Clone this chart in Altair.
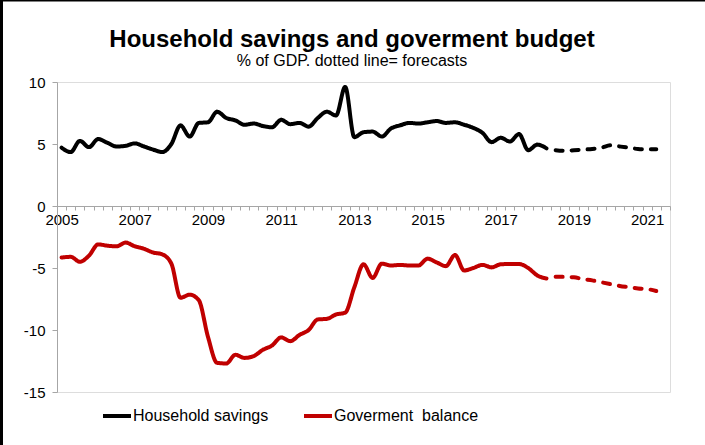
import altair as alt
import pandas as pd

# ---- data (quarterly, first point = 2005 Q1) ----
start_year = 2005
household_actual = [4.7, 4.35, 5.25, 4.75, 5.4, 5.1, 4.8, 4.85, 5.05, 4.8, 4.55, 4.35,
                    5.0, 6.5, 5.6, 6.7, 6.75, 7.6, 7.1, 6.9, 6.55, 6.65, 6.45, 6.35,
                    6.95, 6.6, 6.7, 6.4, 7.1, 7.6, 7.3, 9.6, 5.55, 5.95, 6.0, 5.6,
                    6.25, 6.5, 6.7, 6.65, 6.75, 6.85, 6.7, 6.75, 6.55, 6.3, 5.9, 5.15,
                    5.5, 5.2, 5.8, 4.5, 4.95, 4.65]
household_forecast = [4.5, 4.45, 4.5, 4.55, 4.6, 4.7, 4.9, 4.8, 4.7, 4.6, 4.57, 4.57]
gov_actual = [-4.16, -4.1, -4.5, -4.0, -3.1, -3.2, -3.25, -2.95, -3.25, -3.45, -3.75, -3.9,
              -4.65, -7.4, -7.15, -7.6, -10.55, -12.65, -12.7, -12.0, -12.25, -12.1, -11.6, -11.25,
              -10.6, -10.9, -10.4, -10.0, -9.15, -9.1, -8.75, -8.6, -6.55, -4.7, -5.8, -4.65,
              -4.8, -4.75, -4.8, -4.8, -4.25, -4.55, -4.85, -3.95, -5.2, -5.0, -4.75, -4.95,
              -4.7, -4.68, -4.68, -5.0, -5.6, -5.85]
gov_forecast = [-5.7, -5.72, -5.75, -5.9, -6.0, -6.15, -6.3, -6.45, -6.55, -6.65, -6.7, -6.85]

series_names = ["Household savings", "Goverment\u00a0 balance"]
series_colors = ["#000000", "#C00000"]
label_years = [2005, 2007, 2009, 2011, 2013, 2015, 2017, 2019, 2021]
y_ticks = [-15, -10, -5, 0, 5, 10]

rows = []
def add(values, offset, series, part):
    for k, v in enumerate(values):
        rows.append({"t": start_year + (k + offset) / 4, "value": v, "series": series, "part": part})

add(household_actual, 0, series_names[0], "actual")
add(household_forecast, len(household_actual), series_names[0], "forecast")
add(gov_actual, 0, series_names[1], "actual")
add(gov_forecast, len(gov_actual), series_names[1], "forecast")
df = pd.DataFrame(rows)

n_cat = 67
boundaries = [start_year - 0.125 + 0.25 * k for k in range(n_cat + 1)]
x_values = sorted(boundaries + label_years)

FONT = "Liberation Sans"
GRAY = "#a6a6a6"

lines = alt.Chart(df).mark_line(interpolate="monotone", strokeWidth=4, strokeCap="round").encode(
    x=alt.X("t:Q",
            scale=alt.Scale(domain=[boundaries[0], boundaries[-1]], nice=False, zero=False),
            axis=alt.Axis(values=x_values, title=None, grid=False, domainColor=GRAY, tickColor=GRAY,
                          tickSize=4, tickOpacity={"condition": {"test": "datum.value % 1 != 0", "value": 1}, "value": 0},
                          labelExpr="datum.value % 1 == 0 ? (datum.value + '') : ''",
                          labelOverlap=False, labelFlush=False, labelFont=FONT, labelFontSize=15,
                          labelColor="black", labelPadding=2, offset=-186)),
    y=alt.Y("value:Q",
            scale=alt.Scale(domain=[-15, 10], nice=False),
            axis=alt.Axis(values=y_ticks, title=None, grid=False, domainColor=GRAY, tickColor=GRAY,
                          tickSize=5, labelExpr="datum.value + ''", labelFont=FONT, labelFontSize=15,
                          labelColor="black", labelPadding=7)),
    color=alt.Color("series:N",
                    scale=alt.Scale(domain=series_names, range=series_colors),
                    legend=alt.Legend(orient="none", legendX=44, legendY=318, direction="horizontal",
                                      title=None, symbolType="stroke", symbolSize=784,
                                      symbolStrokeWidth=4, labelFont=FONT, labelFontSize=16,
                                      labelColor="black", labelOffset=0, columnPadding=27)),
    strokeDash=alt.StrokeDash("part:N",
                              scale=alt.Scale(domain=["actual", "forecast"], range=[[1, 0], [7, 9]]),
                              legend=None),
)

frame_df = pd.DataFrame({"k": [0]})
left_border = alt.Chart(frame_df).mark_rule(color="black", strokeWidth=3).encode(
    x=alt.value(-55.5), y=alt.value(-82), y2=alt.value(363))
top_border = alt.Chart(frame_df).mark_rule(color="black", strokeWidth=1.5).encode(
    x=alt.value(-57), x2=alt.value(648), y=alt.value(-81.25))

chart = alt.layer(lines, left_border, top_border).properties(
    width=613, height=310,
    padding={"left": 57, "top": 82, "right": 35, "bottom": 53},
    autosize=alt.AutoSizeParams(type="none"),
    title=alt.TitleParams(text="Household savings and goverment budget",
                          subtitle="% of GDP. dotted line= forecasts",
                          anchor="middle", dx=-11.5, dy=76, font=FONT, fontSize=24, fontWeight="bold",
                          color="black", subtitleFont=FONT, subtitleFontSize=16,
                          subtitleColor="black", subtitlePadding=1, offset=6),
).configure_view(strokeWidth=0).configure(background="white")

chart.save("out.html", embed_options={"renderer": "svg", "actions": False})
